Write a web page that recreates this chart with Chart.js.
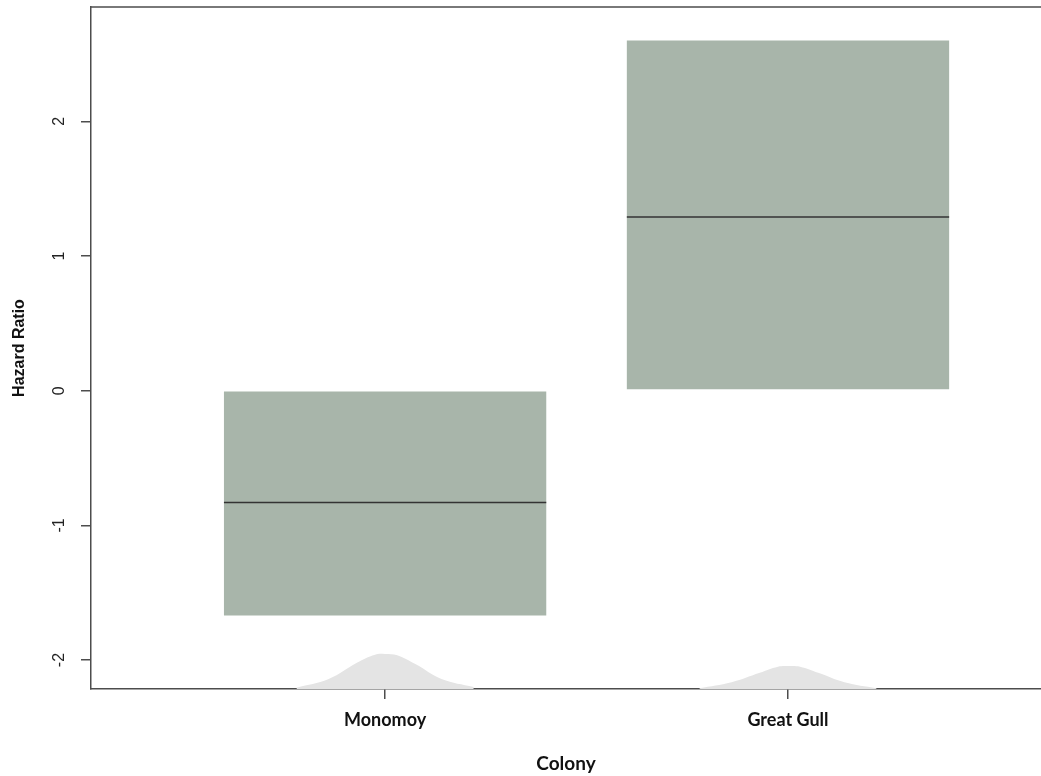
<!DOCTYPE html>
<html>
<head>
<meta charset="utf-8">
<script src="https://cdn.jsdelivr.net/npm/chart.js@4"></script>
<style>
  html, body { margin: 0; padding: 0; background: #fff; }
</style>
</head>
<body>
<canvas id="hazard-chart" width="1041" height="776"></canvas>
<script>
// values
const colonies = ['Monomoy', 'Great Gull'];
const colonyX = [1, 2];
const boxLow = [-1.67, 0.01];
const boxHigh = [0.0, 2.60];
const medians = [-0.83, 1.29];
const yTicks = [-2, -1, 0, 1, 2];

// density bumps along the bottom (offset from colony centre, value)
const bumpOffsets = [-0.22, -0.14, -0.07, -0.025, 0, 0.03, 0.075, 0.14, 0.22];
const monomoyBump = [-2.205, -2.14, -2.02, -1.96, -1.955, -1.965, -2.03, -2.14, -2.2];
const greatGullBump = [-2.21, -2.165, -2.095, -2.05, -2.045, -2.05, -2.095, -2.165, -2.21];

const boxWidth = 0.8;
const axisColor = '#4d4d4d';

function bumpData(center, values) {
    return bumpOffsets.map((o, i) => ({x: center + o, y: values[i]}));
}

function medianData(i) {
    return [
        {x: colonyX[i] - boxWidth / 2, y: medians[i]},
        {x: colonyX[i] + boxWidth / 2, y: medians[i]}
    ];
}

// top frame line + rotated y tick labels (R style)
const frameAndLabels = {
    id: 'frameAndLabels',
    afterDraw(chart) {
        const ctx = chart.ctx;
        const area = chart.chartArea;
        const y = chart.scales.y;
        ctx.save();
        ctx.strokeStyle = axisColor;
        ctx.lineWidth = 1.5;
        ctx.beginPath();
        ctx.moveTo(area.left, area.top);
        ctx.lineTo(area.right, area.top);
        ctx.stroke();

        ctx.fillStyle = '#222';
        ctx.font = '16px "Liberation Sans", Arial, sans-serif';
        ctx.textAlign = 'center';
        ctx.textBaseline = 'middle';
        yTicks.forEach(v => {
            ctx.save();
            ctx.translate(60, y.getPixelForValue(v));
            ctx.rotate(-Math.PI / 2);
            ctx.fillText(String(v), 0, 0);
            ctx.restore();
        });
        ctx.restore();
    }
};

let hazardChart = new Chart('hazard-chart', {
    data: {
        datasets: [
            {
                type: 'line',
                data: bumpData(colonyX[0], monomoyBump),
                borderWidth: 0,
                pointRadius: 0,
                tension: 0.4,
                fill: 'start',
                backgroundColor: '#e4e4e4',
                order: 3
            },
            {
                type: 'line',
                data: bumpData(colonyX[1], greatGullBump),
                borderWidth: 0,
                pointRadius: 0,
                tension: 0.4,
                fill: 'start',
                backgroundColor: '#e4e4e4',
                order: 3
            },
            {
                type: 'bar',
                data: colonyX.map((x, i) => ({x: x, y: [boxLow[i], boxHigh[i]]})),
                backgroundColor: '#a8b5aa',
                borderWidth: 0,
                barPercentage: boxWidth,
                categoryPercentage: 1,
                order: 2
            },
            {
                type: 'line',
                data: medianData(0),
                borderColor: '#333',
                borderWidth: 1.5,
                pointRadius: 0,
                order: 1
            },
            {
                type: 'line',
                data: medianData(1),
                borderColor: '#333',
                borderWidth: 1.5,
                pointRadius: 0,
                order: 1
            }
        ]
    },
    options: {
        responsive: false,
        animation: false,
        layout: {padding: {top: 7, right: 0, bottom: 0, left: 0}},
        plugins: {
            legend: {display: false},
            tooltip: {enabled: false}
        },
        scales: {
            x: {
                type: 'linear',
                offset: false,
                min: 0.27,
                max: 2.628,
                afterBuildTicks: s => { s.ticks = colonyX.map(v => ({value: v})); },
                afterFit: s => { s.height = 87; },
                grid: {display: true, offset: false, drawOnChartArea: false, drawTicks: true, tickLength: 10, color: axisColor, lineWidth: 1.5},
                border: {display: true, color: axisColor, width: 1.5},
                ticks: {
                    padding: 10,
                    color: '#111',
                    font: {family: 'Lato, "Open Sans", sans-serif', size: 18, weight: 'bold'},
                    callback: v => colonies[colonyX.indexOf(v)]
                },
                title: {
                    display: true,
                    text: 'Colony',
                    color: '#111',
                    padding: 1,
                    font: {family: 'Lato, "Open Sans", sans-serif', size: 19, weight: 'bold'}
                }
            },
            y: {
                type: 'linear',
                min: -2.215,
                max: 2.849,
                afterBuildTicks: s => { s.ticks = yTicks.map(v => ({value: v})); },
                afterFit: s => { s.width = 91; },
                grid: {display: true, drawOnChartArea: false, drawTicks: true, tickLength: 10, color: axisColor, lineWidth: 1.5},
                border: {display: true, color: axisColor, width: 1.5},
                ticks: {display: false},
                title: {
                    display: true,
                    text: 'Hazard Ratio',
                    color: '#111',
                    padding: {top: 10, bottom: 10},
                    font: {family: '"Liberation Sans", Arial, sans-serif', size: 16, weight: 'bold'}
                }
            }
        }
    },
    plugins: [frameAndLabels]
});
</script>
</body>
</html>
